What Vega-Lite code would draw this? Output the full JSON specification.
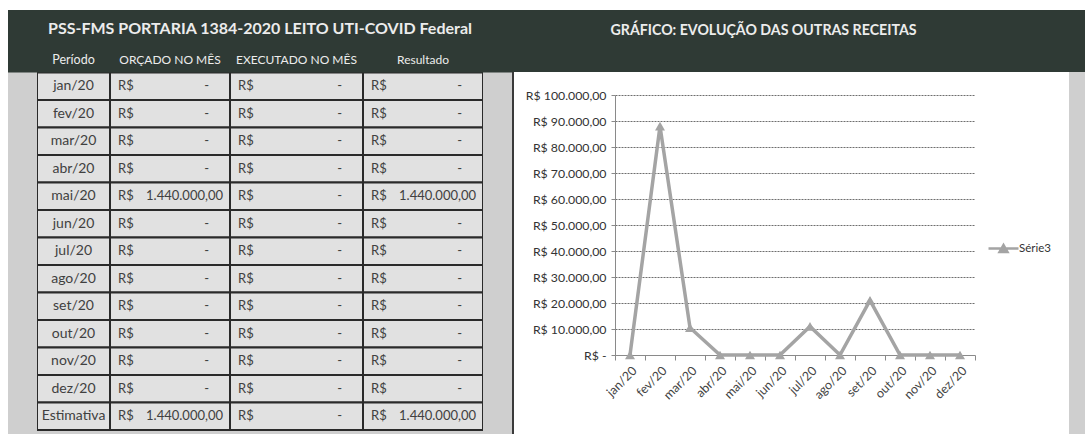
{
  "$schema": "https://vega.github.io/schema/vega-lite/v6.json",
  "background": "white",
  "padding": {"left": 8, "top": 10, "right": 0, "bottom": 0},
  "config": {
    "view": {"stroke": null},
    "font": "Lato",
    "concat": {"spacing": 0},
    "locale": {"number": {"decimal": ",", "thousands": ".", "grouping": [3], "currency": ["R$", ""]}}
  },
  "datasets": {
    "tabela": [
      {"periodo": "jan/20", "orcado": 0, "executado": 0, "resultado": 0},
      {"periodo": "fev/20", "orcado": 0, "executado": 0, "resultado": 0},
      {"periodo": "mar/20", "orcado": 0, "executado": 0, "resultado": 0},
      {"periodo": "abr/20", "orcado": 0, "executado": 0, "resultado": 0},
      {"periodo": "mai/20", "orcado": 1440000, "executado": 0, "resultado": 1440000},
      {"periodo": "jun/20", "orcado": 0, "executado": 0, "resultado": 0},
      {"periodo": "jul/20", "orcado": 0, "executado": 0, "resultado": 0},
      {"periodo": "ago/20", "orcado": 0, "executado": 0, "resultado": 0},
      {"periodo": "set/20", "orcado": 0, "executado": 0, "resultado": 0},
      {"periodo": "out/20", "orcado": 0, "executado": 0, "resultado": 0},
      {"periodo": "nov/20", "orcado": 0, "executado": 0, "resultado": 0},
      {"periodo": "dez/20", "orcado": 0, "executado": 0, "resultado": 0},
      {"periodo": "Estimativa", "orcado": 1440000, "executado": 0, "resultado": 1440000}
    ],
    "serie": [
      {"mes": "jan/20", "valor": 0, "serie": "Série3"},
      {"mes": "fev/20", "valor": 88000, "serie": "Série3"},
      {"mes": "mar/20", "valor": 10500, "serie": "Série3"},
      {"mes": "abr/20", "valor": 0, "serie": "Série3"},
      {"mes": "mai/20", "valor": 0, "serie": "Série3"},
      {"mes": "jun/20", "valor": 0, "serie": "Série3"},
      {"mes": "jul/20", "valor": 11000, "serie": "Série3"},
      {"mes": "ago/20", "valor": 0, "serie": "Série3"},
      {"mes": "set/20", "valor": 21000, "serie": "Série3"},
      {"mes": "out/20", "valor": 0, "serie": "Série3"},
      {"mes": "nov/20", "valor": 0, "serie": "Série3"},
      {"mes": "dez/20", "valor": 0, "serie": "Série3"}
    ]
  },
  "spacing": 0,
  "hconcat": [
    {
      "spacing": 0,
      "vconcat": [
        {
          "width": 504, "height": 35,
          "view": {"fill": "#2f3a35"},
          "data": {"values": [{"titulo": "PSS-FMS PORTARIA 1384-2020 LEITO UTI-COVID Federal"}]},
          "mark": {"type": "text", "fontWeight": "bold", "fontSize": 16, "color": "#ececec", "dy": 1},
          "encoding": {"text": {"field": "titulo"}}
        },
        {
          "spacing": 0,
          "hconcat": [
            {
              "width": 29, "height": 389,
              "view": {"fill": "#cfcfcf"},
              "data": {"values": [{}]},
              "mark": {"type": "rect", "fill": "#2f3a35", "clip": true},
              "encoding": {
                "y": {"datum": "hdr", "scale": {"domain": ["hdr","jan/20","fev/20","mar/20","abr/20","mai/20","jun/20","jul/20","ago/20","set/20","out/20","nov/20","dez/20","Estimativa"], "range": [0, 385], "paddingInner": 0, "paddingOuter": 0}, "axis": null},
                "x": {"datum": 0, "type": "quantitative", "scale": {"domain": [0, 1]}, "axis": null},
                "x2": {"datum": 1}
              }
            },
            {
              "width": 73, "height": 389,
              "view": {"fill": "#cfcfcf"},
              "data": {"name": "tabela"},
              "encoding": {"y": {"field": "periodo", "type": "nominal", "scale": {"domain": ["hdr","jan/20","fev/20","mar/20","abr/20","mai/20","jun/20","jul/20","ago/20","set/20","out/20","nov/20","dez/20","Estimativa"], "range": [0, 385], "paddingInner": 0, "paddingOuter": 0}, "axis": null}},
              "layer": [
                {"mark": {"type": "rect", "fill": "#e1e1e1", "stroke": "#2a2a2a", "strokeWidth": 2, "clip": true},
                 "encoding": {"x": {"datum": 0, "type": "quantitative", "scale": {"domain": [0, 1]}, "axis": null}, "x2": {"datum": 1}}},
                {"data": {"values": [{"cabecalho": "Período"}]}, "mark": {"type": "rect", "fill": "#2f3a35", "clip": true},
                 "encoding": {"y": {"datum": "hdr"}, "x": {"datum": 0, "type": "quantitative"}, "x2": {"datum": 1}}},
                {"data": {"values": [{"cabecalho": "Período"}]}, "mark": {"type": "text", "color": "#ececec", "fontSize": 12.5, "dy": 1},
                 "encoding": {"y": {"datum": "hdr"}, "text": {"field": "cabecalho"}}},
                {"mark": {"type": "text", "color": "#404040", "fontSize": 14},
                 "encoding": {"text": {"field": "periodo"}}}
              ]
            },
            {
              "width": 120, "height": 389,
              "view": {"fill": "#cfcfcf"},
              "data": {"name": "tabela"},
              "encoding": {"y": {"field": "periodo", "type": "nominal", "scale": {"domain": ["hdr","jan/20","fev/20","mar/20","abr/20","mai/20","jun/20","jul/20","ago/20","set/20","out/20","nov/20","dez/20","Estimativa"], "range": [0, 385], "paddingInner": 0, "paddingOuter": 0}, "axis": null}},
              "layer": [
                {"mark": {"type": "rect", "fill": "#e1e1e1", "stroke": "#2a2a2a", "strokeWidth": 2, "clip": true},
                 "encoding": {"x": {"datum": 0, "type": "quantitative", "scale": {"domain": [0, 1]}, "axis": null}, "x2": {"datum": 1}}},
                {"data": {"values": [{"cabecalho": "ORÇADO NO MÊS"}]}, "mark": {"type": "rect", "fill": "#2f3a35", "clip": true},
                 "encoding": {"y": {"datum": "hdr"}, "x": {"datum": 0, "type": "quantitative"}, "x2": {"datum": 1}}},
                {"data": {"values": [{"cabecalho": "ORÇADO NO MÊS"}]}, "mark": {"type": "text", "color": "#ececec", "fontSize": 12, "dy": 1},
                 "encoding": {"y": {"datum": "hdr"}, "text": {"field": "cabecalho"}}},
                {"mark": {"type": "text", "align": "left", "dx": 8, "color": "#404040", "fontSize": 13},
                 "encoding": {"x": {"datum": 0, "type": "quantitative"}, "text": {"value": "R$"}}},
                {"transform": [{"filter": "datum.orcado == 0"}],
                 "mark": {"type": "text", "align": "right", "dx": -21, "color": "#404040", "fontSize": 13},
                 "encoding": {"x": {"datum": 1, "type": "quantitative"}, "text": {"value": "-"}}},
                {"transform": [{"filter": "datum.orcado > 0"}],
                 "mark": {"type": "text", "align": "right", "dx": -7, "color": "#404040", "fontSize": 13},
                 "encoding": {"x": {"datum": 1, "type": "quantitative"}, "text": {"field": "orcado", "type": "quantitative", "format": ",.2f"}}}
              ]
            },
            {
              "width": 133, "height": 389,
              "view": {"fill": "#cfcfcf"},
              "data": {"name": "tabela"},
              "encoding": {"y": {"field": "periodo", "type": "nominal", "scale": {"domain": ["hdr","jan/20","fev/20","mar/20","abr/20","mai/20","jun/20","jul/20","ago/20","set/20","out/20","nov/20","dez/20","Estimativa"], "range": [0, 385], "paddingInner": 0, "paddingOuter": 0}, "axis": null}},
              "layer": [
                {"mark": {"type": "rect", "fill": "#e1e1e1", "stroke": "#2a2a2a", "strokeWidth": 2, "clip": true},
                 "encoding": {"x": {"datum": 0, "type": "quantitative", "scale": {"domain": [0, 1]}, "axis": null}, "x2": {"datum": 1}}},
                {"data": {"values": [{"cabecalho": "EXECUTADO NO MÊS"}]}, "mark": {"type": "rect", "fill": "#2f3a35", "clip": true},
                 "encoding": {"y": {"datum": "hdr"}, "x": {"datum": 0, "type": "quantitative"}, "x2": {"datum": 1}}},
                {"data": {"values": [{"cabecalho": "EXECUTADO NO MÊS"}]}, "mark": {"type": "text", "color": "#ececec", "fontSize": 12, "dy": 1},
                 "encoding": {"y": {"datum": "hdr"}, "text": {"field": "cabecalho"}}},
                {"mark": {"type": "text", "align": "left", "dx": 8, "color": "#404040", "fontSize": 13},
                 "encoding": {"x": {"datum": 0, "type": "quantitative"}, "text": {"value": "R$"}}},
                {"transform": [{"filter": "datum.executado == 0"}],
                 "mark": {"type": "text", "align": "right", "dx": -21, "color": "#404040", "fontSize": 13},
                 "encoding": {"x": {"datum": 1, "type": "quantitative"}, "text": {"value": "-"}}},
                {"transform": [{"filter": "datum.executado > 0"}],
                 "mark": {"type": "text", "align": "right", "dx": -7, "color": "#404040", "fontSize": 13},
                 "encoding": {"x": {"datum": 1, "type": "quantitative"}, "text": {"field": "executado", "type": "quantitative", "format": ",.2f"}}}
              ]
            },
            {
              "width": 120, "height": 389,
              "view": {"fill": "#cfcfcf"},
              "data": {"name": "tabela"},
              "encoding": {"y": {"field": "periodo", "type": "nominal", "scale": {"domain": ["hdr","jan/20","fev/20","mar/20","abr/20","mai/20","jun/20","jul/20","ago/20","set/20","out/20","nov/20","dez/20","Estimativa"], "range": [0, 385], "paddingInner": 0, "paddingOuter": 0}, "axis": null}},
              "layer": [
                {"mark": {"type": "rect", "fill": "#e1e1e1", "stroke": "#2a2a2a", "strokeWidth": 2, "clip": true},
                 "encoding": {"x": {"datum": 0, "type": "quantitative", "scale": {"domain": [0, 1]}, "axis": null}, "x2": {"datum": 1}}},
                {"data": {"values": [{"cabecalho": "Resultado"}]}, "mark": {"type": "rect", "fill": "#2f3a35", "clip": true},
                 "encoding": {"y": {"datum": "hdr"}, "x": {"datum": 0, "type": "quantitative"}, "x2": {"datum": 1}}},
                {"data": {"values": [{"cabecalho": "Resultado"}]}, "mark": {"type": "text", "color": "#ececec", "fontSize": 12, "dy": 1},
                 "encoding": {"y": {"datum": "hdr"}, "text": {"field": "cabecalho"}}},
                {"mark": {"type": "text", "align": "left", "dx": 8, "color": "#404040", "fontSize": 13},
                 "encoding": {"x": {"datum": 0, "type": "quantitative"}, "text": {"value": "R$"}}},
                {"transform": [{"filter": "datum.resultado == 0"}],
                 "mark": {"type": "text", "align": "right", "dx": -21, "color": "#404040", "fontSize": 13},
                 "encoding": {"x": {"datum": 1, "type": "quantitative"}, "text": {"value": "-"}}},
                {"transform": [{"filter": "datum.resultado > 0"}],
                 "mark": {"type": "text", "align": "right", "dx": -7, "color": "#404040", "fontSize": 13},
                 "encoding": {"x": {"datum": 1, "type": "quantitative"}, "text": {"field": "resultado", "type": "quantitative", "format": ",.2f"}}}
              ]
            },
            {
              "width": 29, "height": 389,
              "view": {"fill": "#cfcfcf"},
              "data": {"values": [{}]},
              "mark": {"type": "rect", "fill": "#2f3a35", "clip": true},
              "encoding": {
                "y": {"datum": "hdr", "scale": {"domain": ["hdr","jan/20","fev/20","mar/20","abr/20","mai/20","jun/20","jul/20","ago/20","set/20","out/20","nov/20","dez/20","Estimativa"], "range": [0, 385], "paddingInner": 0, "paddingOuter": 0}, "axis": null},
                "x": {"datum": 0, "type": "quantitative", "scale": {"domain": [0, 1]}, "axis": null},
                "x2": {"datum": 1}
              }
            }
          ]
        }
      ]
    },
    {
      "spacing": 0,
      "vconcat": [
        {
          "width": 573, "height": 62,
          "view": {"fill": "#2f3a35"},
          "data": {"values": [{"titulo": "GRÁFICO: EVOLUÇÃO DAS OUTRAS RECEITAS"}]},
          "mark": {"type": "text", "fontWeight": "bold", "fontSize": 14.2, "color": "#ececec", "dx": -35, "dy": -10},
          "encoding": {"text": {"field": "titulo"}}
        },
        {
          "spacing": 0,
          "hconcat": [
            {"width": 2, "height": 362, "view": {"fill": "#3a3a3a"}, "data": {"values": [{}]}, "mark": {"type": "rect", "opacity": 0}},
            {"width": 11, "height": 362, "data": {"values": [{}]}, "mark": {"type": "rect", "opacity": 0}},
            {
              "width": 360, "height": 362,
              "data": {"name": "serie"},
              "mark": {"type": "line", "strokeWidth": 3.5, "point": {"shape": "triangle-up", "filled": true, "size": 100}},
              "encoding": {
                "x": {"field": "mes", "type": "nominal", "sort": null,
                      "scale": {"type": "band", "paddingInner": 0, "paddingOuter": 0},
                      "axis": {"title": null, "offset": -79, "labelAngle": -45, "tickBand": "extent", "domainColor": "#8a8a8a", "tickColor": "#8a8a8a", "tickSize": 5, "labelFontSize": 12.5, "labelColor": "#444444", "labelPadding": 4, "grid": false}},
                "y": {"field": "valor", "type": "quantitative",
                      "scale": {"domain": [0, 100000], "range": [283, 23], "nice": false},
                      "axis": {"title": null, "minExtent": 90, "maxExtent": 90, "values": [0, 10000, 20000, 30000, 40000, 50000, 60000, 70000, 80000, 90000, 100000], "format": ",.2f", "labelExpr": "datum.value == 0 ? 'R$ -' : 'R$ ' + datum.label", "grid": true, "gridColor": "#6e6e6e", "gridDash": [2, 1], "gridWidth": 1, "domainColor": "#8a8a8a", "tickColor": "#8a8a8a", "tickSize": 4, "labelFontSize": 12.3, "labelColor": "#333333", "labelPadding": 5}},
                "color": {"field": "serie", "type": "nominal", "scale": {"range": ["#a4a4a4"]},
                          "legend": {"title": null, "orient": "none", "legendX": 984, "legendY": 227, "symbolType": "M-1.5,0H1.5M-0.4,0.35L0,-0.35L0.4,0.35Z", "symbolSize": 400, "symbolStrokeWidth": 2.5, "symbolFillColor": "#a4a4a4", "labelFontSize": 11.5, "labelColor": "#333333"}}
              }
            },
            {"width": 93, "height": 362, "data": {"values": [{}]}, "mark": {"type": "rect", "opacity": 0}},
            {"width": 17, "height": 362, "view": {"fill": "#cfcfcf"}, "data": {"values": [{}]}, "mark": {"type": "rect", "opacity": 0}}
          ]
        }
      ]
    }
  ]
}
